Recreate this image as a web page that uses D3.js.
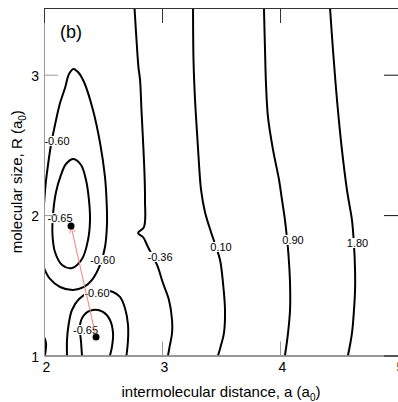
<!DOCTYPE html>
<html>
<head>
<meta charset="utf-8">
<script src="https://cdn.jsdelivr.net/npm/d3@7"></script>
<style>
  html, body { margin: 0; padding: 0; background: #fff; }
  svg { display: block; font-family: "Liberation Sans", Arial, Helvetica, sans-serif; }
</style>
</head>
<body>
<svg id="chart" width="398" height="402"></svg>
<script>
// Axis ticks
const aTicks = [2, 3, 4, 5];
const rTicks = [1, 2, 3];

// Contour lines of the energy surface, as [a, R] points (a0 units)
const contourM036 = [[2.767,3.475],[2.784,3.247],[2.801,3.048],[2.814,2.962],[2.826,2.749],[2.839,2.535],[2.852,2.286],[2.856,2.108],[2.847,1.915],[2.797,1.873],[2.839,1.844],[2.881,1.773],[2.958,1.645],[3.008,1.516],[3.059,1.395],[3.085,1.253],[3.085,1.160],[3.064,1.061],[3.051,1.0]];
const contour010 = [[3.263,3.475],[3.267,3.105],[3.280,2.820],[3.297,2.585],[3.314,2.357],[3.331,2.179],[3.364,2.022],[3.415,1.880],[3.458,1.773],[3.492,1.680],[3.517,1.516],[3.534,1.324],[3.525,1.160],[3.496,1.061],[3.475,1.0]];
const contour090 = [[3.864,3.475],[3.873,3.176],[3.881,2.941],[3.898,2.699],[3.941,2.464],[3.992,2.250],[4.017,2.108],[4.042,1.965],[4.059,1.837],[4.072,1.716],[4.085,1.516],[4.085,1.324],[4.068,1.160],[4.042,1.0]];
const contour180 = [[4.424,3.475],[4.449,3.176],[4.483,2.820],[4.525,2.464],[4.564,2.200],[4.581,2.108],[4.610,1.965],[4.627,1.787],[4.636,1.609],[4.636,1.467],[4.627,1.324],[4.610,1.160],[4.576,1.0]];
const contourM060Upper = [[2.0,2.072],[2.013,2.214],[2.034,2.357],[2.059,2.499],[2.093,2.642],[2.136,2.798],[2.178,2.905],[2.212,3.005],[2.250,3.041],[2.288,3.019],[2.339,2.948],[2.415,2.749],[2.475,2.514],[2.517,2.271],[2.530,2.108],[2.534,1.944],[2.517,1.773],[2.475,1.645],[2.407,1.538],[2.339,1.488],[2.246,1.467],[2.136,1.488],[2.051,1.545],[2.0,1.623]];
const contourM065Upper = [[2.250,2.400],[2.314,2.357],[2.356,2.250],[2.381,2.108],[2.390,1.965],[2.373,1.823],[2.322,1.687],[2.237,1.623],[2.153,1.645],[2.093,1.737],[2.072,1.858],[2.076,2.001],[2.102,2.165],[2.144,2.286],[2.186,2.364]];
const contourM060Lower = [[2.195,1.0],[2.195,1.110],[2.208,1.217],[2.237,1.324],[2.297,1.402],[2.390,1.452],[2.500,1.467],[2.585,1.452],[2.644,1.417],[2.686,1.338],[2.712,1.217],[2.712,1.110],[2.699,1.0]];
const contourM065Lower = [[2.322,1.0],[2.314,1.096],[2.305,1.217],[2.339,1.288],[2.415,1.324],[2.500,1.310],[2.559,1.253],[2.585,1.160],[2.576,1.061],[2.559,1.0]];
const contourCorner = [[2.0,1.132],[2.017,1.089],[2.008,1.0]];

// Contour labels: text and [a, R] position
const labelText = ["-0.60", "-0.65", "-0.60", "-0.60", "-0.65", "-0.36", "0.10", "0.90", "1.80"];
const labelPos = [[2.110,2.528],[2.136,1.979],[2.496,1.680],[2.449,1.445],[2.352,1.182],[2.983,1.702],[3.500,1.773],[4.110,1.823],[4.657,1.801]];

// Energy minima: [a, R]; the path runs from the second to the first
const minima = [[2.229,1.922],[2.441,1.132]];

const svg = d3.select("#chart");
const padL = 44, padR = 398, padT = 8, padB = 355.5;

const x = d3.scaleLinear().domain([2, 5]).range([padL, padR]);
const y = d3.scaleLinear().domain([1, 3.475]).range([padB, padT]);

const defs = svg.append("defs");
defs.append("clipPath").attr("id", "plotClip")
  .append("rect").attr("x", padL).attr("y", padT)
  .attr("width", padR - padL).attr("height", padB - padT);

defs.append("marker")
  .attr("id", "arrow").attr("viewBox", "0 0 10 10")
  .attr("refX", 10).attr("refY", 5)
  .attr("markerWidth", 7).attr("markerHeight", 7)
  .attr("markerUnits", "userSpaceOnUse")
  .attr("orient", "auto")
  .append("path").attr("d", "M0,1 L10,5 L0,9").attr("fill", "none")
  .attr("stroke", "#f08080").attr("stroke-width", 1.2);

const plot = svg.append("g").attr("clip-path", "url(#plotClip)");

const open = d3.line().x(d => x(d[0])).y(d => y(d[1])).curve(d3.curveCatmullRom.alpha(0.5));
const closed = d3.line().x(d => x(d[0])).y(d => y(d[1])).curve(d3.curveCatmullRomClosed.alpha(0.5));

const openLines = [contourM036, contour010, contour090, contour180, contourM060Upper, contourM060Lower, contourM065Lower, contourCorner];
plot.selectAll("path.open").data(openLines).join("path")
  .attr("class", "open")
  .attr("d", open)
  .attr("fill", "none").attr("stroke", "#000").attr("stroke-width", 2);

plot.append("path").datum(contourM065Upper)
  .attr("d", closed)
  .attr("fill", "none").attr("stroke", "#000").attr("stroke-width", 2);

// Contour labels with a white backing that breaks the line
const labels = plot.selectAll("g.lbl").data(labelText.map((t, i) => ({ t, p: labelPos[i] }))).join("g")
  .attr("class", "lbl")
  .attr("transform", d => `translate(${x(d.p[0])},${y(d.p[1])})`);
labels.append("text")
  .attr("text-anchor", "middle").attr("dy", "0.36em")
  .attr("font-size", 11).attr("fill", "#000")
  .text(d => d.t)
  .each(function () {
    const b = this.getBBox();
    d3.select(this.parentNode).insert("rect", "text")
      .attr("x", b.x - 0.5).attr("y", b.y + 1)
      .attr("width", b.width + 1).attr("height", b.height - 2)
      .attr("fill", "#fff");
  });

// Path between the minima
plot.append("line")
  .attr("x1", x(minima[1][0])).attr("y1", y(minima[1][1]))
  .attr("x2", x(minima[0][0])).attr("y2", y(minima[0][1]))
  .attr("stroke", "#f08080").attr("stroke-width", 1)
  .attr("marker-end", "url(#arrow)");

plot.selectAll("circle.min").data(minima).join("circle")
  .attr("class", "min")
  .attr("cx", d => x(d[0])).attr("cy", d => y(d[1])).attr("r", 3.5)
  .attr("fill", "#000");

// Axes with inward ticks
const gB = svg.append("g").attr("transform", `translate(0,${padB})`)
  .call(d3.axisBottom(x).tickValues(aTicks).tickSizeInner(-14).tickSizeOuter(0).tickPadding(6.5).tickFormat(d3.format("d")));
gB.select(".domain").attr("stroke", "#333");
gB.selectAll(".tick line").attr("stroke", "#999");
gB.selectAll(".tick text").attr("font-size", 14).attr("fill", "#000").attr("dx", "2");

const gL = svg.append("g").attr("transform", `translate(${padL},0)`)
  .call(d3.axisLeft(y).tickValues(rTicks).tickSizeInner(-14).tickSizeOuter(0).tickPadding(5).tickFormat(d3.format("d")));
gL.select(".domain").attr("stroke", "#999");
gL.selectAll(".tick line").attr("stroke", "#999");
gL.selectAll(".tick text").attr("font-size", 14).attr("fill", "#000").attr("dy", "0.42em");

const gT = svg.append("g").attr("transform", `translate(0,${padT})`)
  .call(d3.axisTop(x).tickValues(aTicks).tickSizeInner(-15).tickSizeOuter(0).tickFormat(""));
gT.select(".domain").attr("stroke", "#333");
gT.selectAll(".tick line").attr("stroke", "#333");

const gR = svg.append("g").attr("transform", `translate(${padR},0)`)
  .call(d3.axisRight(y).tickValues(rTicks).tickSizeInner(-14).tickSizeOuter(0).tickFormat(""));
gR.select(".domain").attr("stroke", "none");
gR.selectAll(".tick line").attr("stroke", "#111");

// Axis titles
const xt = svg.append("text")
  .attr("x", (padL + padR) / 2).attr("y", 397)
  .attr("text-anchor", "middle").attr("font-size", 15).attr("fill", "#000");
xt.append("tspan").text("intermolecular distance, a (a");
xt.append("tspan").attr("font-size", 10).attr("dy", 4).text("0");
xt.append("tspan").attr("dy", -4).text(")");

const yt = svg.append("text")
  .attr("transform", `translate(22,${(padT + padB) / 2}) rotate(-90)`)
  .attr("text-anchor", "middle").attr("font-size", 15).attr("fill", "#000");
yt.append("tspan").text("molecular size, R (a");
yt.append("tspan").attr("font-size", 10).attr("dy", 4).text("0");
yt.append("tspan").attr("dy", -4).text(")");

// Panel tag
svg.append("text").attr("x", 60).attr("y", 38)
  .attr("font-size", 18).attr("fill", "#000").text("(b)");
</script>
</body>
</html>
